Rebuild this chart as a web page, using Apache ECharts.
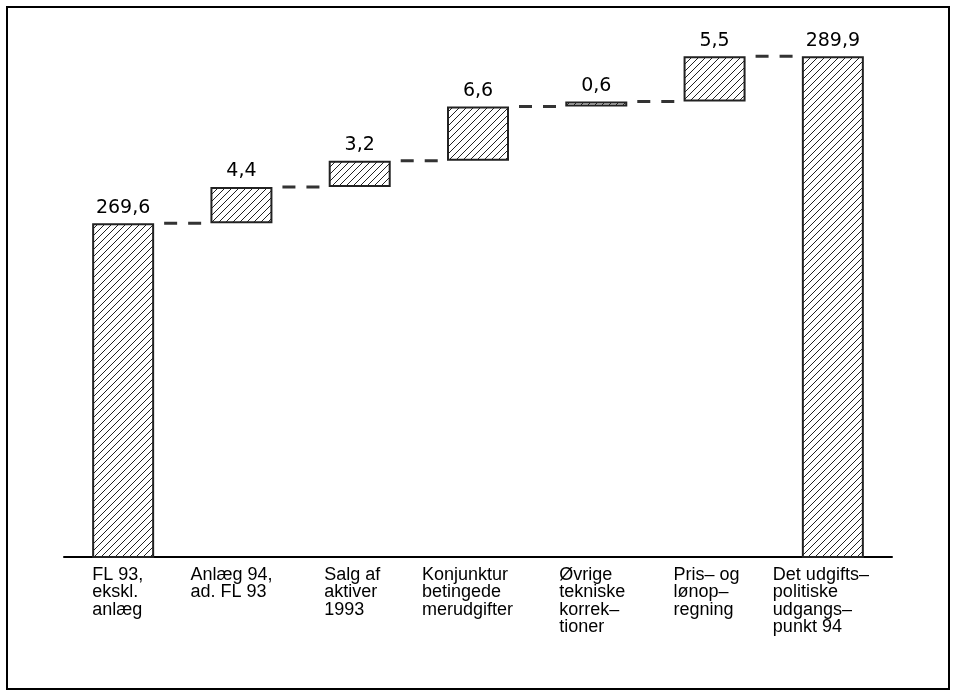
<!DOCTYPE html>
<html>
<head>
<meta charset="utf-8">
<script src="https://cdn.jsdelivr.net/npm/echarts@6/dist/echarts.min.js"></script>
<style>
  html, body { margin: 0; padding: 0; background: #fff; }
  #main { width: 953px; height: 693px; }
</style>
</head>
<body>
<div id="main"></div>
<script>
// categories (multi-line as printed under the axis)
const categories = [
  'FL 93,\nekskl.\nanlæg',
  'Anlæg 94,\nad. FL 93',
  'Salg af\naktiver\n1993',
  'Konjunktur\nbetingede\nmerudgifter',
  'Øvrige\ntekniske\nkorrek–\ntioner',
  'Pris– og\nlønop–\nregning',
  'Det udgifts–\npolitiske\nudgangs–\npunkt 94'
];
// mia. kr.
const values = [269.6, 4.4, 3.2, 6.6, 0.6, 5.5, 289.9];
const isTotal = [true, false, false, false, false, false, true];

// how far each label block starts left of its bar centre (px)
const labelShift = [31, 51, 35.5, 56, 37, 41, 60];
const BAR_W = 62;

// waterfall: invisible base + visible part
const baseVals = [];
const levels = [];
let running = 0;
values.forEach((v, i) => {
  if (isTotal[i]) {
    baseVals.push(0);
    running = v;
  } else {
    baseVals.push(running);
    running = +(running + v).toFixed(1);
  }
  levels.push(running);
});
// connector i runs from bar i to bar i+1 at the running level
const connectorData = levels.slice(0, -1).map((lv, i) => [i, lv]);

// hatch pattern
const tile = document.createElement('canvas');
tile.width = 7; tile.height = 7;
const ctx = tile.getContext('2d');
ctx.fillStyle = '#fff';
ctx.fillRect(0, 0, 7, 7);
ctx.strokeStyle = '#222';
ctx.lineWidth = 1;
ctx.beginPath();
ctx.moveTo(-1, 1); ctx.lineTo(1, -1);
ctx.moveTo(0, 7); ctx.lineTo(7, 0);
ctx.moveTo(6, 8); ctx.lineTo(8, 6);
ctx.stroke();

const rich = {};
labelShift.forEach((s, i) => {
  rich['c' + i] = { width: s * 2, align: 'left', fontSize: 18, lineHeight: 17.5,
    fontFamily: 'Liberation Sans', color: '#000' };
});

const chart = echarts.init(document.getElementById('main'));
chart.setOption({
  animation: false,
  grid: { left: 64, right: 61, top: 39, bottom: 136 },
  xAxis: {
    type: 'category',
    data: categories,
    axisLine: { lineStyle: { color: '#000', width: 2 } },
    axisTick: { show: false },
    axisLabel: {
      interval: 0,
      margin: 9,
      verticalAlign: 'top',
      formatter: (val, idx) => val.split('\n').map(l => '{c' + idx + '|' + l + '}').join('\n'),
      rich: rich
    }
  },
  yAxis: {
    type: 'value',
    min: 229,
    max: 292,
    show: false,
    splitLine: { show: false }
  },
  series: [
    {
      type: 'bar',
      stack: 'wf',
      barWidth: BAR_W,
      itemStyle: { color: 'transparent' },
      silent: true,
      data: baseVals
    },
    {
      type: 'bar',
      stack: 'wf',
      barWidth: BAR_W,
      itemStyle: {
        color: { image: tile, repeat: 'repeat' },
        borderColor: '#222',
        borderWidth: 2
      },
      label: {
        show: true,
        position: 'top',
        distance: 6,
        color: '#000',
        fontSize: 19,
        fontFamily: 'DejaVu Sans',
        formatter: p => p.value.toFixed(1).replace('.', ',')
      },
      data: values
    },
    {
      type: 'custom',
      silent: true,
      data: connectorData,
      renderItem: (params, api) => {
        const i = api.value(0);
        const lv = api.value(1);
        const a = api.coord([i, lv]);
        const b = api.coord([i + 1, lv]);
        return {
          type: 'line',
          shape: { x1: a[0] + BAR_W / 2, y1: a[1], x2: b[0] - BAR_W / 2, y2: b[1] },
          style: { stroke: '#333', lineWidth: 3, lineDash: [13, 11], lineDashOffset: 14 }
        };
      }
    }
  ],
  graphic: [{
    type: 'rect',
    shape: { x: 7, y: 7, width: 942, height: 682 },
    style: { fill: 'none', stroke: '#000', lineWidth: 2 },
    silent: true
  }]
});
</script>
</body>
</html>
